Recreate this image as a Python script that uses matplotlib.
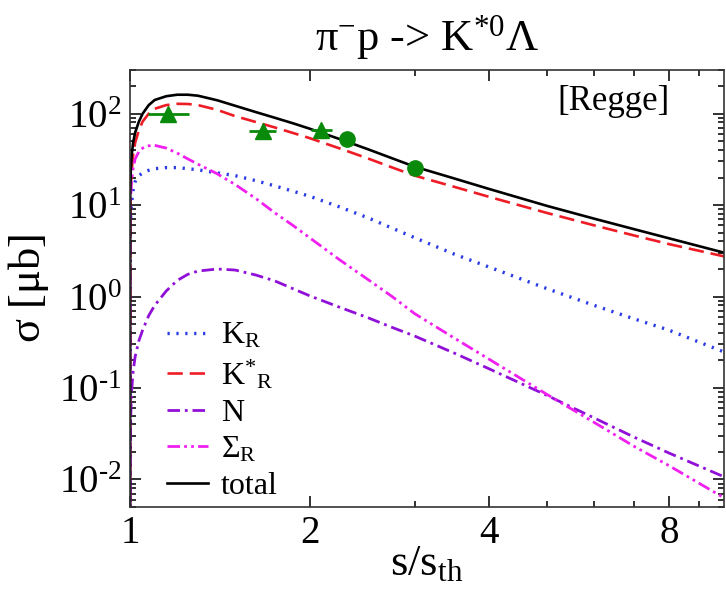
import matplotlib
matplotlib.use("Agg")
import matplotlib.pyplot as plt
from matplotlib.ticker import FixedLocator, FixedFormatter, NullFormatter

plt.rcParams['font.family'] = ['Liberation Serif', 'DejaVu Serif']
plt.rcParams['mathtext.fontset'] = 'custom'
plt.rcParams['mathtext.rm'] = 'Liberation Serif'
plt.rcParams['mathtext.it'] = 'Liberation Serif:italic'
plt.rcParams['lines.scale_dashes'] = False

# s/s_th grid shared by all model curves
s_ratio = [1.0, 1.001, 1.003, 1.006, 1.012, 1.02, 1.035, 1.05, 1.075, 1.1,
           1.15, 1.2, 1.25, 1.3, 1.4, 1.5, 1.625, 1.75, 1.875, 2.0,
           2.25, 2.5, 2.75, 3.0, 3.5, 4.0, 5.0, 6.0, 7.0, 8.0, 9.9]

sig_KR = [1e-4, 5, 8, 10.5, 14.5, 18, 21, 22.5, 24, 25,
          25.7, 25.7, 25, 24.3, 22.5, 21, 18.5, 16.2, 14.2, 12.5,
          9.5, 7.3, 5.6, 4.4, 2.9, 2.1, 1.22, 0.8, 0.57, 0.43, 0.248]
sig_KstR = [1e-4, 9, 16, 23, 35, 48, 66, 82, 100, 113,
            124, 128, 127.5, 124, 110, 94, 81, 70.5, 61.5, 54,
            41.5, 32.5, 25.8, 21, 15.8, 12.3, 8.2, 6.0, 4.65, 3.75, 2.75]
sig_N = [1e-4, 0.02, 0.05, 0.09, 0.15, 0.22, 0.33, 0.43, 0.62, 0.8,
         1.15, 1.5, 1.75, 1.9, 2.0, 1.95, 1.72, 1.48, 1.22, 1.02,
         0.76, 0.59, 0.46, 0.37, 0.24, 0.162, 0.083, 0.047, 0.029, 0.0195, 0.0107]
sig_SigR = [1e-4, 8, 13, 18, 25, 32, 38.5, 42, 44.5, 45,
            42, 37, 32, 28, 22, 16.8, 11.8, 8.2, 6.0, 4.4,
            2.5, 1.55, 1.0, 0.65, 0.35, 0.206, 0.085, 0.042, 0.023, 0.0142, 0.0063]
sig_total = [1e-4, 14, 24, 34, 48, 62, 82, 100, 124, 141,
             155, 161, 161, 157, 140, 122, 104, 90, 78.5, 68.5,
             52.5, 41, 32.5, 26.3, 19.5, 15.0, 9.8, 7.1, 5.45, 4.34, 3.02]

# experimental points
tri_x = [1.16, 1.67, 2.09]
tri_y = [100, 65, 67]
tri_xlo = [1.07, 1.58, 2.01]
tri_xhi = [1.255, 1.76, 2.18]
circ_x = [2.31, 3.0]
circ_y = [53, 25.7]

x_major = [1, 2, 4, 8]
x_major_labels = ['1', '2', '4', '8']
x_minor = [3, 5, 6, 7, 9]
y_major = [1e-2, 1e-1, 1e0, 1e1, 1e2]
y_major_labels = [r'$\mathrm{10^{‐2}}$', r'$\mathrm{10^{‐1}}$', r'$\mathrm{10^{0}}$',
                  r'$\mathrm{10^{1}}$', r'$\mathrm{10^{2}}$']

fig = plt.figure(figsize=(7.26, 5.90), dpi=100)
ax = fig.add_axes([130 / 726, 1 - 507 / 590, 594 / 726, 437 / 590])

ax.plot(s_ratio, sig_KR, color='#2b3be6', lw=2.4, ls=(0, (1.6, 4.8)), label=r'$\mathrm{K_R}$')
ax.plot(s_ratio, sig_KstR, color='#ee1c25', lw=1.9, ls=(0, (11, 5)), label=r'$\mathrm{K^{*}{}_{R}}$')
ax.plot(s_ratio, sig_N, color='#9010d8', lw=2.0, ls=(0, (9, 3.5, 2, 3.5)), label='N')
ax.plot(s_ratio, sig_SigR, color='#f020f0', lw=2.0, ls=(0, (9, 3, 2, 3, 2, 3)), label=r'$\mathrm{\Sigma_R}$')
ax.plot(s_ratio, sig_total, color='black', lw=1.9, label='total')

xerr = [[x - lo for x, lo in zip(tri_x, tri_xlo)], [hi - x for x, hi in zip(tri_x, tri_xhi)]]
ax.errorbar(tri_x, tri_y, xerr=xerr, fmt='^', color='#0a8a0a', ms=11.5, elinewidth=2, capsize=0, zorder=5)
ax.plot(circ_x, circ_y, 'o', color='#0a8a0a', ms=11, zorder=5)

ax.set_xscale('log')
ax.set_yscale('log')
ax.set_xlim(1, 9.9)
ax.set_ylim(5e-3, 300)

ax.xaxis.set_major_locator(FixedLocator(x_major))
ax.xaxis.set_major_formatter(FixedFormatter(x_major_labels))
ax.xaxis.set_minor_locator(FixedLocator(x_minor))
ax.xaxis.set_minor_formatter(NullFormatter())
ax.yaxis.set_major_locator(FixedLocator(y_major))
ax.yaxis.set_major_formatter(FixedFormatter(y_major_labels))
y_minor = [m * 10.0 ** e for e in range(-3, 3) for m in range(2, 10)]
ax.yaxis.set_minor_locator(FixedLocator(y_minor))
ax.yaxis.set_minor_formatter(NullFormatter())

ax.tick_params(which='both', direction='in', top=True, right=True, width=1.3, color='#222222')
ax.tick_params(which='major', length=8, labelsize=28, pad=6)
ax.tick_params(which='minor', length=4.5)
for sp in ax.spines.values():
    sp.set_linewidth(1.2)
    sp.set_color('#333333')

ax.set_xlabel(r'$\mathrm{s/s_{th}}$', fontsize=32, labelpad=-6)
ax.set_ylabel(r'$\mathrm{\sigma\ [\mu b]}$', fontsize=32, labelpad=6)
ax.set_title(r'$\mathrm{\pi^{-}p}$ -> $\mathrm{K^{*0}\Lambda}$', fontsize=32, pad=14)

ax.text(0.909, 0.927, '[Regge]', transform=ax.transAxes, ha='right', va='center', fontsize=25)

ax.legend(loc='upper left', bbox_to_anchor=(0.062, 0.425), frameon=False, fontsize=23,
          handlelength=1.3, handletextpad=0.4, labelspacing=0.22,
          borderpad=0, borderaxespad=0)

fig.savefig('out.png', dpi=100)
